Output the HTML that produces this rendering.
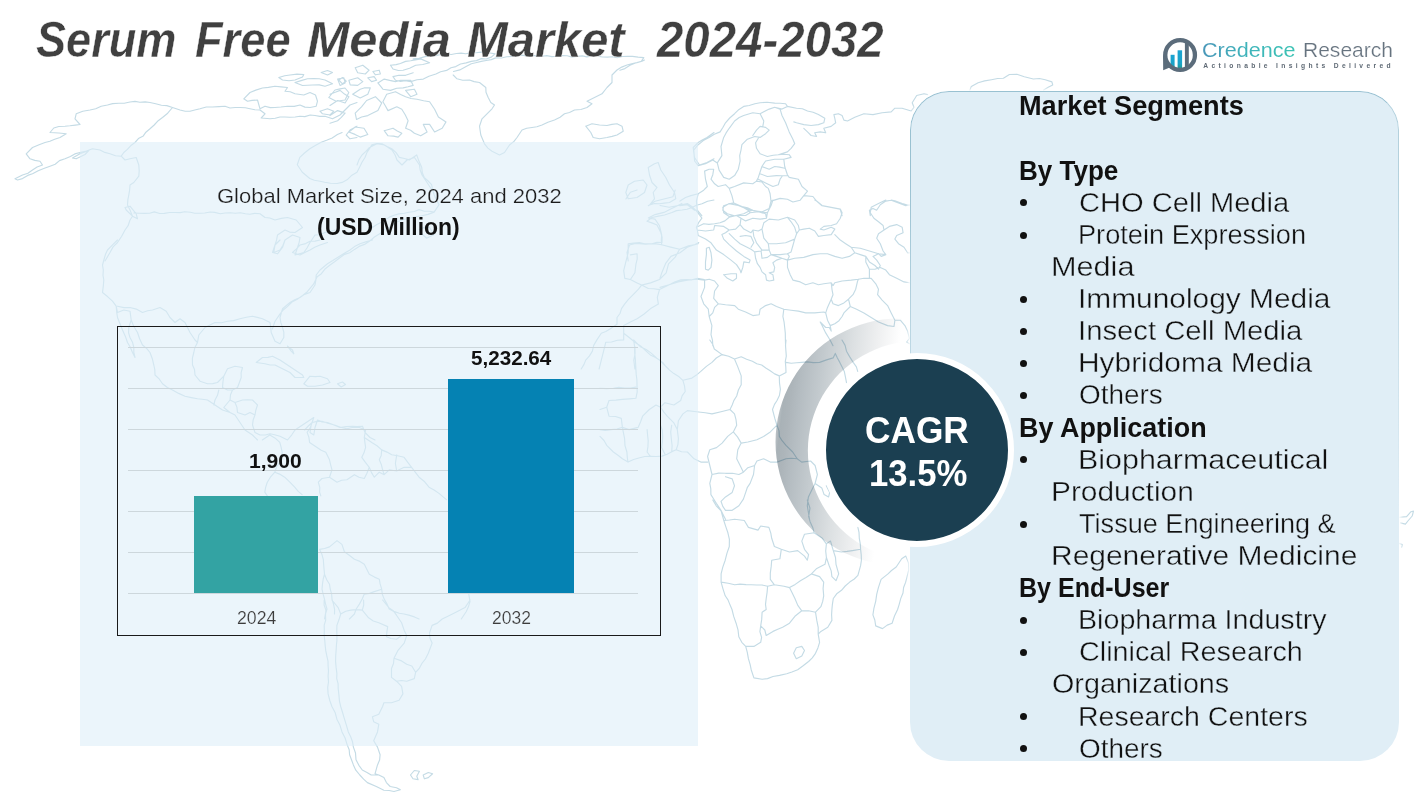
<!DOCTYPE html>
<html><head><meta charset="utf-8"><title>Serum Free Media Market 2024-2032</title>
<style>
html,body{margin:0;padding:0;background:#fff;}
body{width:1428px;height:804px;position:relative;overflow:hidden;font-family:"Liberation Sans",sans-serif;}
.abs{position:absolute;}
.t{position:absolute;line-height:1;white-space:nowrap;transform-origin:0 0;font-family:"Liberation Sans",sans-serif;}
#lpanel{left:79.6px;top:141.5px;width:618.9px;height:604.2px;background:rgba(222,238,248,.6);}
#box{left:117px;top:326px;width:542px;height:308px;border:1px solid #1a1a1a;box-sizing:content-box;}
.gl{position:absolute;left:128px;width:510px;height:1px;background:#cdd7dc;}
#bar1{left:194px;top:495.6px;width:124.3px;height:97.4px;background:#33a3a3;}
#bar2{left:448.4px;top:378.7px;width:125.6px;height:214.3px;background:#0582b3;}
#rpanel{left:909.5px;top:90.7px;width:489.2px;height:670.6px;border-radius:39px;background:#e0eef6;box-shadow:0 0 3px 1.5px rgba(255,255,255,.85);}
#rpb{left:909.5px;top:90.7px;width:489.2px;height:670.6px;border-radius:39px;box-sizing:border-box;border:1.6px solid rgba(140,185,203,.85);border-right-color:rgba(150,190,205,.6);-webkit-mask-image:linear-gradient(to bottom,#000 0%,#000 12%,rgba(0,0,0,.55) 35%,transparent 62%);mask-image:linear-gradient(to bottom,#000 0%,#000 12%,rgba(0,0,0,.55) 35%,transparent 62%);}
.bu{position:absolute;left:1019.7px;width:7.2px;height:7.2px;border-radius:50%;background:#111;}
#cagr{left:819.7px;top:352.9px;width:182.5px;height:182.5px;border-radius:50%;background:#1b3f51;border:6.4px solid #fff;}
</style></head><body>
<svg class="abs" style="left:0;top:0" width="1428" height="804" viewBox="0 0 1428 804"><path d="M172.5 107.5L166.8 105.6L161.4 105.2L155.7 103.7L150.0 102.5L145.2 101.9L139.9 102.3L135.0 101.4L130.0 102.0L124.2 103.2L118.9 103.3L112.6 103.6L107.5 105.0L101.2 106.2L95.7 108.7L90.0 110.0L82.8 111.2L76.2 113.8L75.0 118.8L80.0 124.5L75.4 125.1L69.9 125.8L65.0 126.2L58.8 126.5L53.8 128.0L50.0 132.5L58.8 133.0L66.2 133.8L60.0 137.5L54.7 139.3L49.9 141.3L45.0 142.5L39.1 144.8L32.5 147.5L26.2 153.8L30.0 158.8L34.8 160.4L40.0 161.2L42.5 165.0L37.1 167.0L32.5 170.0L27.9 173.3L22.5 175.0L15.0 178.8L17.5 180.0L22.5 178.6L27.7 175.4L32.5 173.8L38.2 170.7L44.4 168.2L50.0 166.2L55.2 164.3L59.5 160.6L65.0 158.8L70.4 156.5L74.8 153.9L80.0 152.5L86.4 151.0L92.5 148.8L100.0 150.0L104.8 152.4L110.0 153.8L115.5 155.8L121.2 156.2M172.5 107.5L167.7 113.2L162.5 117.5L158.2 120.7L154.2 125.0L150.0 128.8L145.9 132.2L143.3 135.9L138.4 138.6L135.0 142.5L131.3 145.2L127.4 149.4L123.8 152.5L121.2 156.2M72.5 158.0L80.0 153.8L88.8 150.5L85.0 154.5L76.2 158.8L72.5 158.0M121.2 156.2L125.0 160.0L130.0 158.8L136.2 157.5L138.8 165.0L139.2 170.7L138.8 176.2L133.8 182.5L130.0 185.0L129.6 190.1L128.8 195.0L127.9 199.6L127.5 205.0L130.0 210.0L132.5 216.2L130.0 220.0L128.1 225.7L125.0 230.0L121.7 236.3L117.5 242.5L113.1 246.9L110.0 252.5L105.0 261.0M125.0 207.5L130.0 206.2L136.2 213.8L137.5 218.8L132.5 216.2L126.2 210.0L125.0 207.5M133.8 213.0L139.1 213.2L144.5 213.4L149.6 213.2L154.3 211.9L159.7 213.5L164.3 213.4L169.6 212.5L175.0 212.5L180.1 212.6L184.8 211.7L190.4 212.3L194.7 213.2L199.7 213.3L204.7 213.0L210.3 212.0L214.7 212.4L220.3 213.8L225.0 213.0L230.4 212.7L235.2 213.3L240.4 212.8L245.4 213.8L249.8 214.2L254.7 213.4L260.0 213.8L265.0 217.5L269.8 218.0L275.0 220.0L281.3 218.4L287.5 217.5L296.2 220.0L302.5 227.5L295.0 232.5L289.6 232.1L285.0 230.0L277.5 235.0L276.6 239.9L275.0 245.0L273.8 252.5L280.0 250.0L283.0 245.3L285.0 240.0L292.5 235.0L300.0 237.5L299.1 242.6L297.5 247.5L295.0 255.0L303.8 252.5L307.0 248.0L310.0 242.5L315.0 235.0L319.8 234.7L325.0 232.5L330.4 231.6L335.0 230.0M172.5 107.5L180.0 110.0L185.2 111.2L190.0 111.2L194.8 110.0L200.0 108.8L206.3 107.0L212.5 107.0L219.0 106.6L225.0 106.2L230.0 108.0L235.2 107.5L240.0 107.5L245.3 107.8L250.0 108.8L254.9 109.8L260.0 110.0L265.0 113.8L261.2 118.0L270.0 118.8L275.2 118.2L280.0 117.0L285.0 117.0L289.8 117.3L295.2 117.0L300.0 116.2L304.9 116.6L310.2 115.0L315.0 115.5L319.9 116.4L325.0 116.2L332.5 118.8L340.0 115.0L345.0 110.0L350.0 105.0L357.0 102.5M243.8 98.8L250.0 92.5L255.8 90.1L262.5 88.0L268.4 87.4L275.0 86.2L281.1 86.9L287.5 87.5L285.0 91.2L290.2 91.7L295.0 93.8L303.8 95.0L310.0 92.5L315.5 95.0L317.5 101.2L316.2 106.2L310.0 107.5L304.9 107.1L300.0 105.0L294.2 106.4L287.5 106.2L281.0 107.0L275.0 107.5L270.2 107.6L265.0 106.2L260.0 108.8L257.5 100.0L252.1 100.4L247.5 101.2L243.8 98.8M278.8 77.5L284.7 75.7L290.0 75.0L297.0 74.1L303.8 74.5L302.5 77.0L295.0 80.0L289.0 80.7L282.5 80.0L278.8 77.5M295.0 82.5L301.1 80.6L307.5 78.8L313.7 78.5L319.2 78.7L325.0 80.0L332.5 83.8L325.0 86.2L319.2 84.9L312.5 85.0L307.4 85.2L302.5 85.5L295.0 82.5M321.2 72.5L327.5 70.5L332.5 72.5L327.5 75.0L321.2 72.5M328.8 97.5L335.0 90.0L340.0 88.9L345.0 88.0L348.8 92.5L345.0 100.0L336.2 101.2L328.8 97.5M320.0 111.2L327.5 108.8L333.8 111.2L330.0 115.0L322.5 113.8L320.0 111.2M338.8 80.0L342.5 77.5L346.2 81.2L342.5 83.8L338.8 80.0M357.0 126.2L350.0 130.0L346.2 135.0L350.0 138.8L357.0 137.5M453.2 75.0L457.0 78.8L462.7 80.2L469.5 80.0L474.1 81.6L479.5 82.5L485.8 87.5L486.0 92.3L488.2 97.5L490.8 102.5L494.5 105.0L492.0 108.8L487.0 113.8L482.0 118.8L479.5 126.2L480.8 135.0L484.5 143.8L487.9 148.1L492.0 151.2L499.5 155.0L504.5 152.5L509.5 145.0L514.0 141.4L517.0 137.5L522.0 130.0L526.7 128.3L532.0 127.5L536.9 126.7L542.0 125.0L547.9 122.2L554.5 120.0L560.1 117.2L564.5 113.8L569.5 112.5L574.5 110.0L580.9 109.5L587.0 107.5L592.0 103.8L587.0 101.2L594.5 97.5L602.0 93.8L607.0 87.5L612.0 82.5L612.0 75.0L617.0 70.0L621.7 67.1L627.0 65.0L631.6 63.7L636.9 62.6L642.0 61.2L644.5 60.0M585.8 126.2L592.0 123.8L599.5 125.0L607.0 125.5L611.9 124.4L617.0 123.8L622.0 126.2L623.2 131.2L617.0 135.0L612.1 136.4L607.0 137.5L599.5 138.8L593.2 137.5L590.8 132.5L585.8 126.2M654.5 163.8L658.2 162.5L660.8 170.0L665.8 177.5L669.5 185.0L674.5 192.5L675.8 198.8L669.5 202.5L664.2 203.1L659.5 203.8L654.6 203.5L649.5 205.0L654.5 198.8L653.2 192.5L657.0 187.5L652.0 182.5L649.5 175.0L648.2 167.5L654.5 163.8M628.2 185.0L634.5 181.2L643.2 180.0L647.0 185.0L644.5 192.5L637.0 197.5L628.2 198.8L625.8 192.5L628.2 185.0M714.0 132.5L707.0 137.5L702.2 139.9L698.2 142.5L693.2 147.5L693.8 152.5L694.5 157.5L699.5 165.0L707.0 162.5L714.0 158.8M714.0 200.0L707.6 201.2L702.0 203.8L696.5 205.3L692.0 207.5L687.0 209.2L682.0 210.0L676.5 210.6L672.0 212.5L664.5 215.0L658.5 216.1L652.0 217.5L647.0 221.2L652.5 223.1L657.0 225.0L660.8 232.5L662.1 237.2L662.0 242.5L656.9 242.3L652.0 243.8L645.9 244.3L639.5 243.8L634.6 243.6L629.5 245.0L627.0 252.5L628.2 261.0M357.0 165.0L359.0 159.6L362.0 155.0L365.9 151.4L369.5 147.5L377.0 143.8L384.5 145.0L392.0 150.0L395.1 155.0L397.0 160.0L402.0 165.0L407.0 160.0L414.5 157.5L419.5 165.0L420.2 170.1L422.0 175.0L427.0 182.5L432.0 190.0M453.5 71.5L459.8 69.9L466.1 66.5L471.3 63.8L475.7 62.7L481.2 61.4L486.2 60.5L491.3 59.6L496.4 57.6L501.3 58.0L506.9 56.8L511.9 56.4L516.2 56.0L521.6 55.1L526.7 55.9L531.4 55.0L536.8 56.1L542.0 56.3L546.8 55.6L551.9 56.6L557.0 56.2L562.3 55.6L567.2 55.8L572.1 57.1L577.0 56.4L582.4 55.9L586.8 56.9L592.2 56.0L597.6 56.1L602.3 57.0L607.3 57.1L612.5 56.8L617.2 57.6L622.5 56.5L627.5 56.2L632.5 56.4L638.1 57.1L643.8 57.6L641.3 61.4L635.5 63.0L630.0 65.2L624.9 68.6L619.9 70.2M390.5 65.2L396.1 64.6L400.4 63.5L405.6 61.4L410.6 60.8L415.4 59.9L420.7 58.9L429.6 62.7L422.8 64.5L415.7 65.2L409.6 68.2L403.1 70.2L398.3 70.5L393.0 69.0L390.5 65.2M413.2 58.9L419.2 58.4L424.9 56.6L430.3 55.9L435.9 55.6L441.1 54.4L446.1 54.0L451.3 54.5L456.4 53.5L461.1 53.1L465.8 53.8L471.6 52.6L476.2 52.8L481.2 52.1L488.6 52.7L495.1 53.9L491.3 57.1L486.2 59.0L481.4 58.6L476.4 60.6L471.2 61.4L466.2 62.9L460.5 64.0L455.8 66.6L451.0 67.7L446.6 70.4L440.6 71.8L435.9 74.0L428.9 76.2L423.3 79.1L417.0 79.7L410.7 81.6L405.3 80.7L400.5 81.5L395.5 80.3L393.0 76.6L398.9 75.3L405.6 75.3L413.2 72.8M355.2 67.7L362.8 65.2L369.1 70.2L365.3 74.0L357.7 72.8L355.2 67.7M337.6 79.1L343.9 77.8L345.1 82.9L340.1 85.4L337.6 79.1M348.9 80.3L357.7 77.8L362.8 81.6L357.7 85.4L350.2 84.9L348.9 80.3M367.8 77.8L374.1 76.6L376.6 80.3L371.6 81.6L367.8 77.8M372.9 71.5L379.2 70.2L380.4 74.0L375.4 74.8L372.9 71.5M377.9 82.9L384.2 79.1L389.7 80.4L395.5 81.6L400.6 80.3L405.4 80.3L410.7 80.3L413.2 85.4L408.1 86.8L403.1 87.9L396.7 88.3L390.5 90.4L382.9 89.2L377.9 82.9M352.7 94.2L360.2 89.2L364.8 87.7L370.3 87.9L367.8 94.2L360.2 98.0L352.7 94.2M405.6 90.4L414.4 89.2L417.0 94.2L410.7 96.7L405.6 90.4M382.9 101.8L386.7 94.2L395.5 91.7L400.6 94.4L405.6 96.7L411.0 98.5L417.0 99.2L423.6 100.8L429.6 101.8L434.6 109.3L438.4 116.9L446.0 121.9L442.2 128.2L434.6 132.0L429.6 124.4L423.3 124.4L427.1 132.0L420.7 135.8L414.4 133.3L410.6 130.2L405.6 128.2L408.1 120.7L405.2 114.8L401.8 109.3L396.8 106.8L388.0 110.6L385.3 105.8L382.9 101.8M366.6 100.5L375.4 96.7L381.7 103.0L377.9 110.6L372.8 113.1L367.8 115.6L361.6 117.0L356.5 119.4L355.2 113.1L361.5 106.8L366.6 100.5M330.0 94.2L335.3 92.3L340.1 90.4L344.5 94.1L348.9 96.7L345.1 103.0L337.6 100.5L330.0 105.5M330.0 115.6L337.6 110.6L345.1 113.1L341.3 117.4L337.6 120.7L330.0 123.2M348.9 132.0L355.2 127.0L364.0 128.2L367.8 134.5L360.2 137.1L355.0 134.4L348.9 132.0M384.2 130.7L393.0 128.2L397.3 130.9L401.8 133.3L398.1 137.1L393.5 136.1L388.0 135.8L384.2 130.7M693.7 150.1L698.2 144.7L703.3 140.6L709.1 137.4L714.3 134.2L720.1 131.9L723.0 127.3L725.5 122.8L729.7 118.0L734.6 113.7L739.0 109.4L743.7 106.4L749.2 105.5L754.9 103.7L760.1 102.8L767.0 102.2L774.7 103.1L780.1 103.3L785.6 103.7L787.4 106.4L782.0 109.1L774.7 107.3L769.2 109.1L761.9 112.8L760.1 113.7M693.7 150.1L694.2 155.9L694.6 161.0L698.2 165.6L705.5 163.8L712.8 160.1L717.3 162.9L719.1 170.1L723.7 177.4L729.2 179.2L734.6 175.6L738.3 169.2L740.1 161.0L739.7 155.7L741.0 150.1L741.9 144.7L747.4 139.2L754.7 136.5L760.1 137.4L765.6 133.7L769.2 130.1L765.6 127.4L760.1 126.4L756.5 130.1L752.8 135.5M717.3 162.9L721.9 155.6L721.0 146.5L723.7 137.4L726.1 132.9L729.2 128.3L734.6 121.0L739.2 117.5L743.7 115.5L752.8 112.8L760.1 113.7L763.8 121.0L762.8 126.4M774.7 107.3L780.1 109.1L782.0 115.5L785.6 122.8L789.2 131.9L792.9 139.2L794.7 143.7L791.1 148.3L787.4 151.9L778.3 154.7L773.2 155.3L767.4 156.5L760.1 153.8L756.5 148.3L755.6 142.8L758.3 138.3M787.4 106.4L796.5 108.2L802.4 108.8L807.5 111.0L813.1 112.2L818.4 114.6L824.8 118.3L823.8 122.8L818.4 124.6L811.1 125.5L803.8 124.6L796.5 122.8L793.8 121.9M803.8 128.3L807.5 131.9L811.1 135.5L816.6 136.5L814.7 132.8L820.2 131.9L825.7 132.8L823.8 128.3L831.1 126.4L835.7 122.8L834.8 118.3L833.9 114.6L838.4 113.7L842.1 115.5L843.9 120.1L847.5 121.0L854.8 117.3L863.9 113.7L873.0 114.6L882.1 112.8L891.2 111.9L894.9 108.2L902.1 108.2L911.2 111.0L914.0 107.3L912.2 102.8L916.7 95.5L924.0 93.7L927.6 94.6M778.3 154.7L783.8 154.3L789.2 154.7L791.1 157.4L783.8 159.2L774.7 159.2L765.6 161.0L761.9 166.5L760.1 172.0L758.3 177.4L756.5 181.1M783.8 159.2L784.7 166.5L787.4 174.7L789.2 177.4M761.9 166.5L769.2 169.2L774.7 166.5L779.7 167.1L784.7 168.3M760.1 173.8L767.4 176.5L776.5 175.6L781.6 175.7L787.4 175.6M758.3 179.2L765.6 182.9L772.9 186.5L778.3 184.7L780.1 179.2L782.0 176.5M704.6 171.1L709.1 169.2L713.7 169.2L712.8 174.7L711.0 179.2L714.6 183.8L718.2 186.5L725.5 184.7L729.2 188.4L734.6 186.5L743.7 182.9L752.8 183.8L756.5 181.1L761.9 182.0L765.6 186.5M729.2 188.4L731.9 195.6L733.7 202.9L741.9 206.6L747.5 207.9L752.8 210.2L761.9 212.0L769.2 208.4L771.0 201.1L770.1 193.8L768.3 188.4L765.6 186.5M789.2 177.4L798.4 179.2L802.0 186.5L807.5 191.1L803.8 195.6L800.2 200.2L792.9 202.0L787.4 199.3L780.1 198.4L771.0 201.1M803.8 195.6L812.9 196.5L816.6 201.1L822.0 205.7L831.1 207.5L840.2 209.3L842.1 215.7M704.6 171.1L705.5 179.2L707.3 186.5L703.7 190.2L698.2 193.8L696.4 201.1L697.3 210.2L701.8 215.7M698.2 193.8L690.9 195.6L685.5 197.5L680.0 201.1M680.0 205.7L687.3 204.7L694.6 210.2L697.3 210.2M723.7 205.7L729.2 203.8L733.7 202.9M723.7 205.7L722.8 210.2L727.3 213.8L734.6 215.7M741.9 206.6L749.2 211.1L752.8 210.2M734.6 215.7L743.7 213.8L749.2 211.1M870.3 215.7L869.4 210.2L873.0 208.4L876.6 210.2L880.3 204.7L885.8 201.1L891.2 200.2L898.5 202.9L905.8 205.7L909.4 204.7M696.4 227.3L703.7 223.7L708.9 224.4L714.6 223.7L720.1 222.8L724.9 220.9L729.2 217.3L736.5 215.5L741.0 218.2L740.1 224.6L735.6 229.1L729.2 230.0L723.7 226.4L714.6 225.5L713.7 230.0L705.5 231.0L697.3 230.0L696.4 227.3M722.8 207.3L729.2 203.6L738.3 205.5L747.4 209.1L750.1 212.7L745.6 215.5L736.5 215.5L729.2 216.4L723.7 212.7L722.8 207.3M750.1 212.7L758.3 211.8L765.6 213.7L766.5 218.2L760.1 219.1L752.9 218.2L745.6 220.9L741.0 218.2M697.3 230.0L698.2 235.5L705.5 239.1L711.0 242.8L716.4 250.1L723.7 254.6L731.0 260.1L736.5 264.6L740.1 270.1L741.0 272.8L742.8 267.4L743.8 261.9L749.2 262.8L750.1 260.1L743.8 256.4L736.5 251.0L729.2 244.6L723.7 239.1L721.9 234.6L725.5 232.8L729.2 230.0M706.4 248.3L709.2 247.3L711.0 252.8L711.9 260.1L711.0 267.4L708.3 270.1L705.5 269.2L705.5 261.9L706.4 254.6L706.4 248.3M723.7 274.7L731.0 273.7L736.5 273.7L736.5 278.3L732.8 281.0L727.4 278.3L723.7 274.7M729.2 233.7L734.7 239.1L740.1 243.7L745.6 246.4L751.0 249.2L754.7 251.9L755.6 258.3L757.4 263.7L760.1 267.4L762.0 271.9L765.6 274.7L766.5 280.1L769.2 281.0L773.8 280.1L772.9 274.7L769.2 272.8L773.8 271.9L774.7 267.4L772.9 262.8L776.5 260.1L782.0 258.3L787.5 260.1L789.3 256.4L787.5 253.7M740.1 224.6L743.8 229.1L751.0 232.8L752.9 230.0L758.3 231.0L762.0 229.1M740.1 236.4L745.6 235.5L751.0 236.4L753.8 242.8L751.0 247.3M752.9 230.0L753.8 236.4L756.5 242.8L762.0 250.1L769.2 250.1L768.3 243.7L763.8 238.2L762.0 229.1M754.7 251.9L761.1 251.0L762.0 250.1M761.1 251.0L762.0 258.3L767.4 257.4L771.1 254.6L769.2 250.1M771.1 254.6L776.5 256.4L782.0 258.3M762.0 229.1L763.8 222.8L769.2 219.1L778.4 220.0L787.5 217.3L794.7 220.0L798.4 225.5L799.3 230.0L796.6 233.7L794.7 239.1L785.6 242.8L776.5 243.7L768.3 243.7M794.7 239.1L792.9 245.5L791.1 251.9L787.5 253.7L780.2 254.6L771.1 254.6M787.5 217.3L791.1 221.8L794.7 227.3L796.6 233.7M799.3 230.0L803.8 229.1L809.3 228.2L814.8 231.0L818.4 236.4L823.9 235.5L831.2 234.6L834.8 229.1L831.2 227.3L823.9 230.0L820.2 229.1L823.9 226.4L831.2 225.5L836.6 223.7L840.3 218.2L842.1 212.7L840.3 209.1L831.2 207.3L822.1 205.5L816.6 200.9L814.8 200.0M766.5 218.2L767.4 212.7L771.1 205.5L772.9 200.0M747.4 209.1L754.7 210.9L762.0 211.8L767.4 212.7M787.5 260.1L794.7 258.3L803.8 257.4L812.9 254.6L820.2 253.7L827.5 253.7L834.8 256.4L842.1 258.3L849.4 256.4L854.8 252.8L860.3 254.6L865.8 256.4M834.8 234.6L840.3 240.1L845.7 243.7L851.2 247.3L854.8 252.8M851.2 247.3L860.3 248.3L869.4 251.0L878.5 253.7L885.8 254.6M865.8 256.4L869.4 261.9L874.9 265.5L878.5 269.2L880.3 265.5L876.7 260.1L873.0 256.4L878.5 253.7M787.5 260.1L787.5 267.4L790.2 274.7L792.9 280.1L800.2 281.9L805.7 284.7L812.9 282.8L818.4 284.7L823.9 283.8L831.2 282.8L833.0 285.6L834.8 282.8L842.1 281.0L851.2 280.1L858.5 279.2L863.9 278.3L869.4 278.3L869.4 269.2L865.8 261.9L865.8 256.4M885.8 200.0L878.5 203.6L871.2 207.3L870.3 212.7L873.9 218.2L878.5 221.8L883.1 225.5L884.0 230.0L878.5 233.7L876.7 238.2L880.3 243.7L883.1 251.0L885.8 254.6L881.2 256.4L878.5 253.7M909.5 205.5L902.2 203.6L894.9 200.9L891.2 200.0M884.0 230.0L889.4 226.4L896.7 224.6L902.2 227.3L903.1 232.8L896.7 235.5L894.9 239.1L898.5 243.7L904.0 247.3L907.6 252.8L909.5 252.8M869.4 269.2L874.9 269.2L880.3 267.4L885.8 270.1L889.4 274.7L896.7 278.3L904.0 281.9L909.5 282.8M831.2 282.8L832.1 290.1L833.0 294.7L831.2 299.2L833.0 303.8L838.4 305.6L843.9 302.9L848.5 299.2L853.0 294.7L855.7 289.2L857.6 281.0L858.5 279.2M848.5 299.2L850.3 306.5L856.6 309.2L863.9 312.9L871.2 317.4L878.5 322.0L887.6 325.6L894.0 326.5L894.9 320.2L891.2 312.9L887.6 305.6L882.1 300.1L877.6 294.7L878.5 289.2L875.8 283.8L871.2 278.3L869.4 278.3M831.2 299.2L827.5 307.4L825.7 312.9L827.5 320.2L830.2 325.6L831.2 331.1L829.3 327.5L825.7 327.5L820.2 322.0L822.1 325.6L825.7 332.9L830.2 340.2L833.0 345.7M830.2 325.6L834.8 323.8L839.0 320.7L842.1 316.5L843.9 312.9L850.3 306.5M894.9 320.2L900.3 320.2L904.9 325.6L907.6 331.1L909.5 338.4L906.7 342.0L909.5 343.8M704.6 280.1L709.2 279.2L714.6 281.0L718.3 285.6L714.6 291.0L713.7 298.3L718.3 303.8L725.5 304.7L734.7 305.6L738.3 309.2L745.6 312.0L752.9 315.6L759.2 314.7L760.1 309.2L765.6 305.6L771.1 303.8L776.5 306.5L783.8 309.2L791.1 310.2L798.4 311.1L805.7 312.9L814.8 312.9L823.9 312.0L825.7 312.9M704.6 280.1L704.6 287.4L701.0 296.5L703.7 303.8L708.3 309.2L709.2 316.5L712.8 312.9L714.6 307.4L718.3 303.8M709.2 316.5L711.9 325.6L711.0 334.7L712.5 340.4L712.8 345.7M783.8 309.2L782.9 316.5L784.1 322.2L784.7 327.5L785.3 333.1L785.4 339.8L785.6 345.7M704.6 280.1L696.4 279.2L687.3 280.1L678.2 281.9L669.1 284.7L660.0 287.4M660.0 205.5L669.1 207.3L678.2 205.5L687.3 203.6L692.2 206.8L696.4 210.9L701.9 218.2L698.6 222.7L696.4 227.3M698.2 243.7L693.0 245.3L687.3 247.3L680.0 252.8L670.9 256.4L665.5 263.7L661.8 272.8L660.0 278.3M709.8 340.0L712.7 344.3L714.3 349.0L722.1 354.6L728.7 356.3L734.5 359.0L741.2 356.8L746.6 359.2L752.4 361.3L756.8 363.7L761.7 365.0L765.8 368.0L770.2 370.8L774.6 373.9L779.3 375.9L786.0 372.5L785.8 367.3L785.3 361.4L786.3 356.1L785.9 350.8L785.5 345.4L786.0 340.0M786.0 362.4L791.2 363.3L796.7 362.8L801.7 362.4L807.3 361.9L813.3 362.6L819.6 362.4L826.6 359.9L833.1 357.9L835.3 353.4M722.1 354.6L716.3 358.0L712.0 362.4L706.4 366.4L700.8 371.4L696.4 375.1L691.9 378.1L682.9 380.3L679.1 376.8L673.9 373.6L669.5 370.1L665.9 366.5L662.7 362.4L656.8 358.1L651.5 353.4L646.2 349.5L640.3 346.7L633.6 340.0M734.5 359.0L737.8 366.9L741.2 375.9L741.2 384.8L738.4 390.0L736.7 396.0L733.8 400.6L732.2 405.0L730.0 409.5L734.5 413.9L736.0 419.7L736.7 425.2L733.3 431.9M779.3 375.9L779.5 383.0L780.4 389.3L779.4 395.5L777.0 400.5L774.5 404.4L772.5 409.5L774.8 418.4L777.0 425.2L770.3 431.9L763.6 436.4L756.9 439.7L747.9 442.0L741.2 443.1L737.5 436.9L733.3 431.9M682.9 380.3L684.5 385.9L685.2 391.5L682.1 395.8L680.7 400.5L673.9 405.0L665.0 402.7L660.5 407.2M730.0 409.5L721.0 411.7L712.0 413.9L705.3 412.8L696.4 411.7L687.4 410.6L682.9 413.9L678.4 420.7L677.3 429.6L678.4 438.6L677.9 444.6L676.2 449.8M733.3 431.9L727.7 436.4L722.1 443.1L716.5 447.6L709.8 449.8L707.6 456.5L709.8 465.5L712.0 474.5L709.8 483.4L710.8 488.9L710.9 494.6L713.5 498.8L716.5 503.6L721.0 510.3L723.4 515.2L725.5 519.3M676.2 449.8L681.5 451.7L687.4 452.0L694.1 458.8L700.8 462.1L707.6 462.1M741.2 443.1L737.8 449.8L736.7 458.8L740.1 465.5L743.4 472.2L738.9 474.5L732.5 473.3L725.5 473.3L718.7 473.1L712.0 474.5M743.4 472.2L747.9 467.7L754.6 465.5L756.9 461.0L763.6 458.8L770.3 462.1L777.0 462.1M777.0 425.2L779.0 430.9L779.3 436.4L782.1 440.7L786.0 445.3L792.7 452.0L797.2 458.8L801.7 462.1L810.6 461.0L815.1 465.5L817.4 474.5L815.1 483.4L811.8 490.1L808.4 496.9L807.3 505.8L808.4 512.5L809.5 519.3M777.0 462.1L786.0 458.8L791.2 458.3L797.2 458.8M754.6 465.5L753.5 474.5L750.1 483.4L747.4 487.3L745.7 492.4L743.4 499.1L738.9 505.8L732.2 510.3L725.5 510.3L722.8 506.4L721.0 501.3L725.5 496.9L732.2 492.4L734.5 485.7L732.2 478.9L725.5 476.7M815.1 483.4L821.8 487.9L824.1 494.6L828.6 496.9L829.7 492.4L826.3 485.7M633.6 340.0L634.6 346.4L634.7 353.4L635.3 358.4L635.6 363.5L635.9 369.1L636.2 374.4L636.9 379.8L637.0 384.8L637.2 392.0L635.9 398.3L629.4 398.9L622.4 399.4L615.8 400.1L609.0 400.5L606.7 407.2L609.0 416.2L615.5 416.5L621.3 418.4L622.4 427.4L629.1 429.6L638.1 427.4L640.6 421.8L642.6 416.2L649.3 409.5L656.0 405.0L660.5 407.2L663.9 412.1L667.2 416.2L673.9 422.9L677.3 429.6M600.0 388.2L606.4 388.6L613.4 388.2L618.9 387.2L624.5 388.1L630.4 388.0L635.9 387.1M600.0 429.6L605.3 430.4L611.2 429.6L616.9 429.0L622.4 427.4M622.4 427.4L623.4 432.7L624.6 438.6L625.0 445.6L626.9 452.0L627.3 457.5L628.0 462.1L633.6 459.5L638.8 458.0L644.8 456.5L650.6 456.2L656.0 456.5L662.0 456.1L667.2 454.3L671.3 451.9L676.2 449.8M600.0 436.4L604.0 440.5L606.7 445.3L613.4 452.0L618.3 455.5L622.4 458.8L628.0 462.1M647.1 429.6L647.6 435.3L648.2 440.8L647.9 446.9L647.1 452.0L650.4 456.5M660.5 425.2L662.3 430.2L662.7 436.4L662.4 441.6L661.6 447.6L665.0 454.3M671.7 425.2L670.7 431.9L671.3 438.6L672.1 445.7L671.7 452.0M606.7 407.2L600.0 409.5M835.3 353.4L837.4 358.0L839.8 362.4L842.1 367.0L844.3 371.4L845.4 376.9L846.5 382.6M842.0 340.0L845.1 345.4L846.5 351.2L849.6 356.6L853.2 362.4L856.4 366.9L857.7 371.4M712.8 500.0L716.2 505.8L721.1 510.9L723.8 520.5L725.7 526.4L727.9 532.8L729.4 539.3L729.3 546.5L727.0 553.1L725.2 560.2L722.8 567.1L721.1 573.9L721.1 582.1L722.9 588.6L725.2 595.8L728.0 599.9L730.1 605.1L732.0 609.5L733.7 616.4L736.1 623.2L738.0 629.8L738.8 636.8L741.8 642.3L745.7 646.4L747.3 652.3L748.4 658.7L750.1 664.3L751.2 669.7L753.9 677.9L762.1 679.3L767.5 678.6L773.0 676.5L779.5 675.4L786.7 673.8L791.9 672.0L797.7 669.7L803.1 665.8L808.6 661.5L812.3 657.8L815.5 653.3L817.9 647.9L819.6 642.3L818.2 634.1L820.9 631.4L827.8 627.3L831.9 620.4L831.6 614.7L831.9 609.5L832.4 604.3L833.3 598.5L836.7 593.8L841.5 590.3L845.2 586.0L849.7 582.1L854.3 579.0L857.9 575.3L860.6 565.7L861.4 560.3L861.2 554.8L860.6 549.3L860.3 543.8L859.3 538.3L859.0 532.4L857.9 527.4M723.8 520.5L729.5 520.0L734.7 519.2L744.3 520.5L748.4 527.4L758.0 530.1L760.7 526.0L768.9 527.4L770.8 533.1L771.7 538.3L774.4 546.5L781.3 549.3L789.5 552.0L797.7 550.6L804.5 556.1L807.3 560.2L808.6 554.7L804.5 549.3L801.8 541.1L804.5 534.2L814.1 532.8L822.3 538.3L826.4 543.8L825.7 551.0L826.4 557.5L825.0 564.3L816.8 568.4L811.4 573.9M781.3 549.3L779.9 558.8L771.7 560.2L771.2 566.4L770.3 573.2L770.3 579.4L774.4 584.8M721.1 582.1L728.2 583.2L734.7 584.8L740.0 584.1L746.0 584.6L751.2 584.8L756.7 585.0L761.9 585.0L767.6 586.2L774.4 584.8L784.0 586.2L789.5 587.6M767.6 586.2L767.1 592.3L766.2 598.5L765.5 604.4L766.2 609.5L762.1 612.2L761.7 619.4L760.7 625.9L759.9 631.7L761.6 637.3L760.7 642.3L753.9 646.4L745.7 646.4M760.7 625.9L764.8 630.0L766.2 635.5L773.0 631.4L777.8 629.3L782.6 627.3L789.5 623.2L794.9 616.3L801.8 610.8L808.6 610.8L815.5 612.2M789.5 587.6L792.1 592.8L794.9 598.5L797.8 605.4L801.8 610.8M789.5 587.6L795.2 584.4L800.4 580.7L806.0 577.4L811.4 573.9L819.6 576.6L823.7 582.1L823.1 588.6L823.7 595.8L822.7 601.4L820.9 606.7L815.5 612.2L816.8 620.4L818.2 627.3L818.2 634.1M826.4 543.8L830.5 541.1L833.3 550.6L841.5 552.0L847.0 551.4L852.4 550.6L860.6 549.3M826.4 557.5L829.2 565.7L831.2 570.9L831.9 576.6L836.0 580.7L838.7 573.9L836.0 564.3L835.5 557.5L833.3 550.6M793.6 653.3L796.3 647.8L801.8 646.4L804.5 650.5L801.8 656.0L796.3 658.7L793.6 653.3M905.8 556.1L908.5 562.9L908.7 570.1L907.1 576.6L905.6 582.4L903.6 587.5L903.0 593.0L900.8 598.4L899.2 604.3L897.6 609.5L894.5 616.0L892.1 623.2L887.2 625.1L882.5 628.6L875.7 625.9L874.8 620.0L872.9 614.9L873.9 608.3L875.7 601.3L876.7 594.4L878.4 587.6L881.1 579.4L888.0 573.9L891.5 570.5L896.2 567.0L901.7 558.8L905.8 556.1M807.3 500.0L810.0 508.2L808.6 516.4L810.1 521.7L812.7 527.4L814.1 532.8M117.5 240.0L112.8 244.7L107.5 250.0L105.4 254.6L104.0 259.5L102.5 265.0L103.3 270.0L103.0 275.4L103.8 280.0L103.3 286.1L102.5 292.5L107.8 296.8L112.5 301.2L116.2 306.2L117.5 312.5L123.8 310.0L130.0 311.2L131.2 320.0L133.7 326.2L137.5 332.5L139.6 338.8L142.5 345.0L146.8 348.6L150.0 352.5L152.3 358.7L153.8 365.0L154.8 369.7L155.0 375.0L159.4 379.2L162.5 383.8L167.4 387.5L172.5 390.0L178.7 393.4L185.0 396.2L191.4 397.6L197.5 398.8L202.2 399.2L207.5 400.0L215.0 405.0L222.5 410.0L230.0 412.5L235.0 415.0L240.0 422.5L245.0 430.0L252.5 435.0L257.5 440.0M116.2 306.2L116.7 312.1L117.5 317.5L120.0 323.7L122.5 330.0L125.4 336.4L127.5 342.5L130.2 347.0L132.5 352.5L135.0 357.5L133.8 352.5L133.8 347.5L132.5 342.2L130.0 337.5L128.6 332.8L128.8 327.5L131.2 320.0M117.5 306.2L124.0 307.6L130.0 307.5L136.3 309.1L142.5 312.5L147.6 310.8L152.5 310.0L160.0 307.5L166.2 311.2L170.0 317.5L175.0 322.5L180.0 318.8L185.0 322.5L187.5 327.6L190.0 332.5L195.0 340.0L197.5 342.5M197.5 342.5L198.8 335.0L205.0 327.5L209.9 324.9L215.0 322.5L221.5 322.7L227.5 321.2L233.5 320.6L240.0 318.8L246.3 317.3L252.5 316.2L257.2 317.4L262.5 318.8L270.0 322.5L270.8 327.5L271.2 332.5L275.0 341.2L280.0 343.8L283.8 337.5L283.8 332.1L282.5 327.5L280.8 322.4L280.0 317.5L282.5 308.8L290.0 302.5L294.7 299.7L300.0 297.5L304.5 294.4L310.0 292.5L315.0 285.0L315.9 279.8L316.2 275.0L320.0 270.0L327.5 263.8L332.8 260.6L337.5 257.5L343.9 253.6L350.0 250.0L354.5 246.6L360.0 243.8L366.5 241.6L372.5 240.0M197.5 342.5L194.9 347.5L193.8 352.5L192.4 358.2L192.5 365.0L194.5 369.6L195.0 375.0L200.0 381.2L207.5 383.8L212.7 383.6L217.5 382.5L223.8 376.2L227.5 368.8L235.0 366.2L242.5 367.5L241.1 372.8L241.2 377.5L239.4 382.5L237.5 387.5L232.5 390.0M218.8 390.0L217.5 395.3L215.0 400.0L213.8 405.0M223.8 376.2L223.0 381.5L222.5 387.5L227.5 390.0L232.5 390.0L230.5 394.8L230.0 400.0L235.0 402.5L242.5 400.0L247.6 399.9L252.5 400.0L257.5 405.0L255.8 410.2L255.0 415.0L253.2 419.7L252.5 425.0L255.0 432.5L260.0 435.0L265.3 435.0L270.0 433.8L274.6 434.8L280.0 436.2L287.5 440.0M230.0 400.0L223.8 407.5L230.0 412.5M235.0 402.5L236.9 407.1L237.5 412.5L245.0 415.0L250.0 412.5L255.0 415.0M256.2 362.5L262.5 357.5L267.9 357.4L272.5 356.2L280.0 360.0L287.5 365.0L295.0 370.0L302.5 375.0L303.8 377.5L295.0 377.5L290.0 372.5L282.5 368.8L275.0 365.0L270.1 365.0L265.0 363.8L256.2 362.5M303.8 383.8L310.0 376.2L315.3 376.6L320.0 376.2L327.5 378.8L330.0 382.5L322.5 385.0L315.0 386.2L307.5 386.2L303.8 383.8M337.5 383.8L342.5 382.0L345.5 384.5L341.2 387.0L337.5 383.8M272.5 252.5L275.0 245.0L280.0 240.0M272.5 252.5L277.5 253.8L282.5 247.5L285.0 240.0M292.5 252.5L296.4 248.8L300.0 245.0L305.7 243.6L310.0 241.2L315.0 241.1L320.0 240.0M292.5 252.5L300.0 255.0L305.3 252.3L310.0 250.0L314.7 247.2L320.0 245.0L327.5 242.5M287.5 346.2L292.5 350.0L293.8 353.8L291.2 351.2L287.5 346.2M287.5 440.0L291.8 434.8L295.0 430.0L302.5 425.0L310.0 420.0L313.8 417.5L311.2 425.0L310.0 432.5L313.8 435.0L315.0 427.5L317.5 420.0L322.0 421.9L327.5 422.5L334.0 425.0L340.0 427.5L346.3 426.6L352.5 426.2L357.1 426.5L362.5 426.2L365.0 432.5L370.0 437.5L375.0 440.0M304.6 430.0L308.3 426.0L312.1 422.5L317.3 421.4L322.0 421.2L327.8 423.2L334.5 425.0L340.5 427.2L346.9 428.7L353.2 427.2L359.4 427.5L365.6 430.0L364.3 437.4L371.8 442.4L377.0 445.7L381.7 449.9L387.0 452.1L391.7 454.8L397.6 455.7L404.1 457.3L407.6 462.2L411.6 467.3L415.4 472.3L419.1 477.2L424.7 481.8L429.0 487.2L434.1 490.0L439.0 493.4L446.4 499.6M312.1 422.5L310.3 427.6L307.1 432.4L308.9 437.3L309.6 442.4L317.1 447.4L321.2 450.2L325.8 452.3L329.5 459.8L330.7 465.1L332.0 469.8L329.5 477.2M364.3 437.4L364.9 442.4L365.6 447.4L364.0 452.8L361.8 457.3L365.4 462.4L369.3 467.3L371.5 472.6L374.3 477.2L379.3 472.2L384.2 474.7L389.2 469.8L396.7 471.0L404.1 467.3L411.6 467.3M381.7 449.9L381.2 455.4L379.3 459.8L381.3 464.4L382.6 469.8L384.2 474.7M396.7 454.8L395.4 463.5L396.7 471.0M329.5 477.2L337.0 482.2L341.6 480.3L346.9 479.7L354.4 474.7L359.0 477.3L364.3 478.5L366.9 473.2L369.3 467.3M329.5 477.2L322.0 478.5L318.3 482.2L319.8 487.5L319.6 492.1L320.8 495.9M262.3 439.9L269.8 434.9L275.2 438.2L279.8 442.4L281.1 447.2L282.2 452.3L281.8 457.7L279.8 462.3L276.6 466.7L274.8 472.2L270.4 477.2L267.3 482.2L265.7 487.1L264.8 492.1L267.3 495.9M274.8 472.2L279.6 474.1L284.7 477.2L290.1 482.4L294.7 487.2L298.2 491.4L302.1 494.6M319.6 549.4L324.6 548.5L329.5 546.9L337.0 540.6L341.9 544.4L344.4 551.8L349.3 555.2L354.4 559.3L359.9 561.4L364.3 564.3L366.9 569.5L369.3 574.2L374.5 577.1L379.3 579.2L380.1 583.9L381.7 589.2L382.3 594.2L384.2 599.1L386.9 603.8L389.2 609.1L393.8 611.4L399.3 613.3L404.1 614.0L408.8 615.1L414.4 616.9L419.1 619.0M319.6 549.4L321.9 554.3L323.3 559.3L323.8 566.4L324.5 574.2L323.2 579.0L322.5 583.9L322.0 589.2L323.2 594.4L324.5 599.1L325.5 603.8L327.0 609.1L325.5 613.7L324.5 619.0M324.5 574.2L326.7 579.8L329.5 584.2L330.2 589.0L331.6 593.8L332.0 599.1L333.5 604.2L334.6 609.3L334.5 614.0M364.3 594.1L369.5 593.4L374.3 591.6L381.7 589.2M364.3 594.1L362.2 599.0L359.4 604.1L356.2 609.0L354.4 614.0L349.4 619.0M468.8 594.1L470.0 601.6L468.4 606.8L466.3 611.5L461.3 619.0M324.2 600.0L324.1 605.1L325.9 610.0L325.5 615.2L325.7 620.1L324.2 625.2L324.3 630.3L324.2 635.5L324.8 640.8L325.2 645.8L325.8 650.9L326.8 655.8L328.0 661.1L328.1 666.0L328.5 670.9L328.1 676.1L328.5 681.8L327.7 687.5L328.1 693.9L329.8 700.5L331.9 706.5L335.1 712.4L336.9 719.2L340.0 725.3L342.0 731.9L345.1 738.0L347.1 744.6L349.2 749.8L349.6 754.7L351.5 759.7L353.4 764.9L355.8 770.2L359.8 775.0L363.6 779.1L367.4 782.6L376.3 786.5L383.9 790.3L389.1 790.5L394.0 791.5L400.4 789.8L396.5 787.7L390.2 786.5L386.4 782.6L383.9 777.6L378.8 775.0L375.0 773.8L377.5 764.9L379.6 760.1L380.1 754.7L377.5 747.1L373.7 740.8L377.5 731.9L378.8 724.3L373.7 721.8L372.4 716.7L378.8 714.2L382.6 706.5L383.9 702.7L391.5 702.7L399.1 700.2L402.9 693.9L401.6 686.3L396.5 681.2L391.5 677.4L391.5 668.5L393.5 663.5L394.0 658.3L397.8 650.7L404.2 643.1L406.7 635.5L404.2 630.4L401.6 622.8L396.5 615.2L393.2 610.6L388.9 607.6L382.6 600.0M331.9 600.0L338.2 607.6L340.7 614.0L339.1 619.3L336.9 625.4L336.8 630.7L336.9 636.0L336.9 640.6L336.4 645.3L336.1 650.7L335.7 655.8L335.6 661.6L336.1 667.4L336.9 673.6L336.7 678.7L338.1 683.7L338.2 688.8L338.9 694.7L339.4 700.8L340.7 706.5L342.7 713.0L344.5 719.2L346.6 725.9L348.3 731.9L350.7 736.8L352.5 741.7L353.4 747.1L355.5 753.0L356.0 759.8L358.9 765.3L362.3 770.0L367.0 772.4L371.2 775.0L378.8 775.0M340.7 614.0L345.7 611.2L350.9 610.1L356.2 609.6L362.3 610.1L363.7 605.0L363.6 600.0M362.3 610.1L368.6 617.8L373.3 621.0L378.8 622.8L387.7 626.6L386.9 631.9L386.4 636.8L390.9 638.5L396.5 639.3L401.6 635.5L406.7 635.5M394.0 658.3L401.6 660.9L406.7 664.3L411.8 666.0L415.6 672.3L414.3 678.6L406.7 681.2L401.5 680.5L396.5 681.2M415.6 672.3L419.2 668.5L421.9 663.4L425.4 659.0L428.3 653.3L430.2 648.3L432.1 643.1L429.9 638.0L429.5 633.0L432.1 625.4L437.4 623.1L442.2 619.0L448.4 616.0L454.9 612.7L460.2 610.1L465.0 607.6L470.1 600.0M410.5 775.0L414.3 770.5L419.4 771.2L416.8 776.3L418.1 779.6L413.0 778.8L410.5 775.0M423.2 775.0L428.3 772.5L432.6 773.8L428.3 777.6L424.4 778.8L423.2 775.0M628.2 243.7L633.5 243.1L639.4 242.6L644.7 243.9L650.6 243.7L656.4 243.9L661.7 244.8L670.7 247.1L679.6 249.3L675.2 257.1L668.5 263.8L666.2 272.8L659.5 279.5L650.6 282.9L641.6 285.1L637.1 282.9L630.4 279.5L624.8 278.4L623.7 270.6L625.9 261.6L628.2 252.7L628.2 243.7M630.4 254.9L637.1 253.8L637.2 259.1L636.0 263.8L634.9 272.8L630.4 279.5M661.7 244.8L661.3 240.0L661.7 234.8L659.5 225.8L655.0 219.1L648.3 218.0L655.0 214.6L664.0 212.4L670.7 209.0L677.4 205.7L681.9 203.4M679.6 249.3L688.6 245.9L694.1 244.9L698.7 242.6M641.6 285.1L648.3 288.5L653.9 288.7L659.5 289.6L666.2 286.2L670.7 284.1L675.2 281.7L680.8 279.9L686.4 279.5L691.8 279.8L697.5 278.4L704.3 279.5M641.6 285.1L638.5 289.2L634.9 292.9L628.2 299.6L624.6 304.1L621.5 308.6L620.0 313.5L617.0 317.5L617.0 324.3L610.3 328.7L605.8 331.5L601.3 333.2L596.9 339.9L593.7 345.4L592.4 351.1L589.5 355.9L585.7 360.1L583.9 364.6L581.2 369.0M659.5 289.6L657.3 297.4L658.4 304.1L650.6 308.6L643.8 314.2L637.1 318.7L630.4 322.0L623.7 325.4L623.7 333.2L623.7 339.9L617.4 340.2L611.5 342.0L605.8 342.2L603.6 351.1L601.3 360.1L599.1 369.0M623.7 333.2L629.5 337.8L634.9 342.2L640.9 346.2L646.1 351.1L650.3 354.9L655.1 357.2L659.5 360.1L663.7 364.4L668.5 369.0M634.9 346.6L635.1 353.6L633.8 360.1L634.9 369.0M625.9 199.0L630.4 192.2L637.1 190.0M648.3 205.7L655.0 201.2L664.0 199.0L672.9 196.7L675.2 190.0M1399.8 517.3L1406.6 516.6L1411.0 511.7L1413.5 511.1L1412.2 516.0L1407.9 521.0L1405.4 524.1L1400.4 522.9M1399.2 543.4L1402.3 544.6L1401.7 547.1M342.1 132.5L337.4 134.6L332.2 138.0L327.2 140.0L321.2 142.2L315.3 145.6L309.8 148.7L304.5 153.0L299.8 157.4L297.3 164.8L302.3 172.3L309.8 178.5L314.3 180.3L320.1 181.2L324.7 182.2L330.5 183.3L337.1 183.5L342.1 182.4L347.1 179.8L351.9 175.2L357.0 172.3L359.7 167.0L362.0 162.3L365.1 157.3L367.0 152.4L371.9 144.9L376.9 143.5L381.9 143.7L387.0 146.6L391.8 148.7L396.1 152.6L399.3 157.4L404.5 158.5L409.3 159.9L416.7 154.9L418.9 161.1L421.7 167.3L422.3 172.6L424.2 177.3L428.1 181.0L431.6 184.7M431.6 184.7L432.7 190.0L434.1 194.7L436.4 200.1L439.1 204.6L434.1 212.1L428.1 214.4L421.7 215.8L415.2 216.9L409.3 218.3L402.7 219.7L396.8 222.0L391.1 226.2L384.4 229.5L380.1 233.6L374.4 237.0L369.8 240.9L364.5 244.4L359.1 246.4L354.5 249.4L349.7 252.7L344.6 254.4L339.5 258.0L334.6 261.8L329.7 265.3L324.7 269.3L321.4 273.7L317.2 276.8L313.5 284.2L307.3 291.7L302.7 295.4L297.3 299.2L292.0 302.1L287.4 306.6L283.2 310.0L279.9 314.1L274.9 321.5L272.4 329.0M434.1 212.1L429.5 211.2L424.3 211.3L419.2 209.6L414.3 211.5L408.9 212.3L404.3 213.3L398.8 213.9L394.0 215.3L389.4 217.1L383.4 221.3L376.9 224.5L369.5 229.5M419.2 229.5L424.2 227.4L429.2 227.0L434.1 234.5L426.7 238.2L422.2 234.2L419.2 229.5M969.9 90.1L971.3 86.4L978.1 82.7L984.6 80.9L991.5 79.7L997.6 78.5L1003.4 78.2L1009.4 74.5L1016.9 74.2L1024.3 76.7L1033.3 79.0L1039.5 78.5L1045.2 79.7L1051.9 81.9L1052.7 84.9L1048.2 87.2L1043.7 90.1" fill="none" stroke="#c4dbe5" stroke-width="1.15" stroke-linejoin="round" stroke-linecap="round" opacity="1"/></svg>
<svg class="abs" style="left:0;top:0;mix-blend-mode:multiply" width="1428" height="804" viewBox="0 0 1428 804">
<defs><linearGradient id="rg" gradientUnits="userSpaceOnUse" x1="762.4" y1="425.2" x2="1035.6" y2="458.8">
<stop offset="0.045" stop-color="#c4cace"/><stop offset="0.065" stop-color="#a9b2b7"/><stop offset="0.09" stop-color="#adb5ba"/><stop offset="0.12" stop-color="#b4bcc1"/><stop offset="0.19" stop-color="#c3cace"/><stop offset="0.29" stop-color="#dce0e2"/><stop offset="0.38" stop-color="#eff0f1"/><stop offset="0.46" stop-color="#ffffff"/></linearGradient></defs>
<path fill-rule="evenodd" fill="url(#rg)" d="M899 318.5a123.5 123.5 0 1 0 .01 0ZM917.35 341.05a109.5 109.5 0 1 0 .01 0Z"/>
</svg>
<div id="lpanel" class="abs"></div>
<div id="rpanel" class="abs"></div><div id="rpb" class="abs"></div>
<div id="box" class="abs"></div>
<div class="gl" style="top:346.6px"></div><div class="gl" style="top:387.6px"></div><div class="gl" style="top:428.6px"></div><div class="gl" style="top:469.6px"></div><div class="gl" style="top:510.6px"></div><div class="gl" style="top:551.6px"></div><div class="gl" style="top:592.6px"></div>
<div id="bar1" class="abs"></div><div id="bar2" class="abs"></div>
<div id="cagr" class="abs"></div>
<svg class="abs" style="left:1158px;top:33px" width="45" height="45" viewBox="1158 33 45 45">
<defs><clipPath id="lc"><circle cx="1180.1" cy="55" r="14.8"/></clipPath>
<linearGradient id="lb" x1="0" y1="0" x2="0" y2="1"><stop offset="0" stop-color="#1ba4d2"/><stop offset=".7" stop-color="#1aa3c8"/><stop offset="1" stop-color="#1f9a88"/></linearGradient></defs>
<g clip-path="url(#lc)">
<rect x="1170.6" y="54.8" width="4" height="14" fill="url(#lb)"/>
<rect x="1177.6" y="50.3" width="4.5" height="19" fill="url(#lb)"/>
<rect x="1184.9" y="40" width="3.9" height="28" fill="#5b6c7b"/>
</g>
<circle cx="1180.1" cy="55" r="14.85" fill="none" stroke="#5b6c7b" stroke-width="4.3"/>
<path d="M1163 54 L1163.2 70.3 L1171.5 66.8 L1166 60 Z" fill="#5b6c7b"/>
</svg>
<i class="bu" style="top:199.3px"></i>
<i class="bu" style="top:231.5px"></i>
<i class="bu" style="top:295.7px"></i>
<i class="bu" style="top:327.8px"></i>
<i class="bu" style="top:359.9px"></i>
<i class="bu" style="top:392.0px"></i>
<i class="bu" style="top:456.3px"></i>
<i class="bu" style="top:520.5px"></i>
<i class="bu" style="top:616.8px"></i>
<i class="bu" style="top:649.0px"></i>
<i class="bu" style="top:713.2px"></i>
<i class="bu" style="top:745.3px"></i>
<span class="t" style="left:36.10px;top:15.61px;font-size:49.6px;font-weight:700;font-style:italic;color:#404040;transform:scaleX(0.9103);-webkit-text-stroke:0.4px #ffffff">Serum</span>
<span class="t" style="left:194.70px;top:15.61px;font-size:49.6px;font-weight:700;font-style:italic;color:#404040;transform:scaleX(0.9119);-webkit-text-stroke:0.4px #ffffff">Free</span>
<span class="t" style="left:306.70px;top:15.61px;font-size:49.6px;font-weight:700;font-style:italic;color:#404040;transform:scaleX(1.0238);-webkit-text-stroke:0.4px #ffffff">Media</span>
<span class="t" style="left:467.40px;top:15.61px;font-size:49.6px;font-weight:700;font-style:italic;color:#404040;transform:scaleX(0.9861);-webkit-text-stroke:0.4px #ffffff">Market</span>
<span class="t" style="left:657.46px;top:15.61px;font-size:49.6px;font-weight:700;font-style:italic;color:#404040;transform:scaleX(0.9560);-webkit-text-stroke:0.4px #ffffff">2024-2032</span>
<span class="t" style="left:216.54px;top:185.69px;font-size:20.8px;font-weight:400;font-style:normal;color:#1c1c1c;transform:scaleX(1.0571);-webkit-text-stroke:0.23px #ebf4fb">Global Market Size, 2024 and 2032</span>
<span class="t" style="left:317.40px;top:216.03px;font-size:23px;font-weight:700;font-style:normal;color:#111;transform:scaleX(0.9970)">(USD Million)</span>
<span class="t" style="left:248.78px;top:450.98px;font-size:20.7px;font-weight:700;font-style:normal;color:#111;transform:scaleX(1.0186)">1,900</span>
<span class="t" style="left:470.60px;top:347.58px;font-size:20.7px;font-weight:700;font-style:normal;color:#111;transform:scaleX(0.9973)">5,232.64</span>
<span class="t" style="left:236.70px;top:608.59px;font-size:18.8px;font-weight:400;font-style:normal;color:#3c3c3c;transform:scaleX(0.9411);-webkit-text-stroke:0.2px #ebf4fb">2024</span>
<span class="t" style="left:492.00px;top:608.59px;font-size:18.8px;font-weight:400;font-style:normal;color:#3c3c3c;transform:scaleX(0.9314);-webkit-text-stroke:0.2px #ebf4fb">2032</span>
<span class="t" style="left:865.25px;top:412.28px;font-size:37px;font-weight:700;font-style:normal;color:#fff;transform:scaleX(0.9532)">CAGR</span>
<span class="t" style="left:869.15px;top:455.36px;font-size:37.5px;font-weight:700;font-style:normal;color:#fff;transform:scaleX(0.9251)">13.5%</span>
<span class="t" style="left:1019.19px;top:93.41px;font-size:26.8px;font-weight:700;font-style:normal;color:#111;transform:scaleX(1.0132)">Market Segments</span>
<span class="t" style="left:1019.23px;top:157.64px;font-size:26.8px;font-weight:700;font-style:normal;color:#111;transform:scaleX(0.9706)">By Type</span>
<span class="t" style="left:1079.11px;top:189.76px;font-size:26.8px;font-weight:400;font-style:normal;color:#111;transform:scaleX(1.0857);-webkit-text-stroke:0.36px #e0eef6">CHO Cell Media</span>
<span class="t" style="left:1078.17px;top:221.87px;font-size:26.8px;font-weight:400;font-style:normal;color:#111;transform:scaleX(1.0139);-webkit-text-stroke:0.36px #e0eef6">Protein Expression</span>
<span class="t" style="left:1050.91px;top:253.99px;font-size:26.8px;font-weight:400;font-style:normal;color:#111;transform:scaleX(1.1438);-webkit-text-stroke:0.36px #e0eef6">Media</span>
<span class="t" style="left:1077.97px;top:286.10px;font-size:26.8px;font-weight:400;font-style:normal;color:#111;transform:scaleX(1.1150);-webkit-text-stroke:0.36px #e0eef6">Immunology Media</span>
<span class="t" style="left:1078.02px;top:318.22px;font-size:26.8px;font-weight:400;font-style:normal;color:#111;transform:scaleX(1.0917);-webkit-text-stroke:0.36px #e0eef6">Insect Cell Media</span>
<span class="t" style="left:1077.97px;top:350.33px;font-size:26.8px;font-weight:400;font-style:normal;color:#111;transform:scaleX(1.1154);-webkit-text-stroke:0.36px #e0eef6">Hybridoma Media</span>
<span class="t" style="left:1079.16px;top:382.45px;font-size:26.8px;font-weight:400;font-style:normal;color:#111;transform:scaleX(1.0415);-webkit-text-stroke:0.36px #e0eef6">Others</span>
<span class="t" style="left:1019.19px;top:414.56px;font-size:26.8px;font-weight:700;font-style:normal;color:#111;transform:scaleX(1.0053)">By Application</span>
<span class="t" style="left:1077.93px;top:446.68px;font-size:26.8px;font-weight:400;font-style:normal;color:#111;transform:scaleX(1.1357);-webkit-text-stroke:0.36px #e0eef6">Biopharmaceutical</span>
<span class="t" style="left:1050.97px;top:478.79px;font-size:26.8px;font-weight:400;font-style:normal;color:#111;transform:scaleX(1.1142);-webkit-text-stroke:0.36px #e0eef6">Production</span>
<span class="t" style="left:1079.30px;top:510.91px;font-size:26.8px;font-weight:400;font-style:normal;color:#111;transform:scaleX(1.0116);-webkit-text-stroke:0.36px #e0eef6">Tissue Engineering &amp;</span>
<span class="t" style="left:1050.96px;top:543.02px;font-size:26.8px;font-weight:400;font-style:normal;color:#111;transform:scaleX(1.1177);-webkit-text-stroke:0.36px #e0eef6">Regenerative Medicine</span>
<span class="t" style="left:1019.27px;top:575.14px;font-size:26.8px;font-weight:700;font-style:normal;color:#111;transform:scaleX(0.9340)">By End-User</span>
<span class="t" style="left:1078.06px;top:607.25px;font-size:26.8px;font-weight:400;font-style:normal;color:#111;transform:scaleX(1.0695);-webkit-text-stroke:0.36px #e0eef6">Biopharma Industry</span>
<span class="t" style="left:1079.13px;top:639.37px;font-size:26.8px;font-weight:400;font-style:normal;color:#111;transform:scaleX(1.0736);-webkit-text-stroke:0.36px #e0eef6">Clinical Research</span>
<span class="t" style="left:1052.13px;top:671.48px;font-size:26.8px;font-weight:400;font-style:normal;color:#111;transform:scaleX(1.0718);-webkit-text-stroke:0.36px #e0eef6">Organizations</span>
<span class="t" style="left:1078.07px;top:703.60px;font-size:26.8px;font-weight:400;font-style:normal;color:#111;transform:scaleX(1.0634);-webkit-text-stroke:0.36px #e0eef6">Research Centers</span>
<span class="t" style="left:1079.16px;top:735.71px;font-size:26.8px;font-weight:400;font-style:normal;color:#111;transform:scaleX(1.0415);-webkit-text-stroke:0.36px #e0eef6">Others</span>
<span class="t" style="left:1202.24px;top:39.92px;font-size:20.3px;font-weight:400;font-style:normal;color:transparent;background:linear-gradient(90deg,#4b97b9 0%,#3fb3bb 45%,#3cc3b4 100%);-webkit-background-clip:text;background-clip:text;transform:scaleX(1.0639);-webkit-text-stroke:0px #fff">Credence</span>
<span class="t" style="left:1303.06px;top:39.92px;font-size:20.3px;font-weight:400;font-style:normal;color:#66737f;transform:scaleX(1.0364);-webkit-text-stroke:0.22px #ffffff">Research</span>
<span class="t" style="left:1203.30px;top:63.33px;font-size:6.7px;font-weight:700;font-style:normal;color:#5f6a75;letter-spacing:3.344px">Actionable Insights Delivered</span>
</body></html>
